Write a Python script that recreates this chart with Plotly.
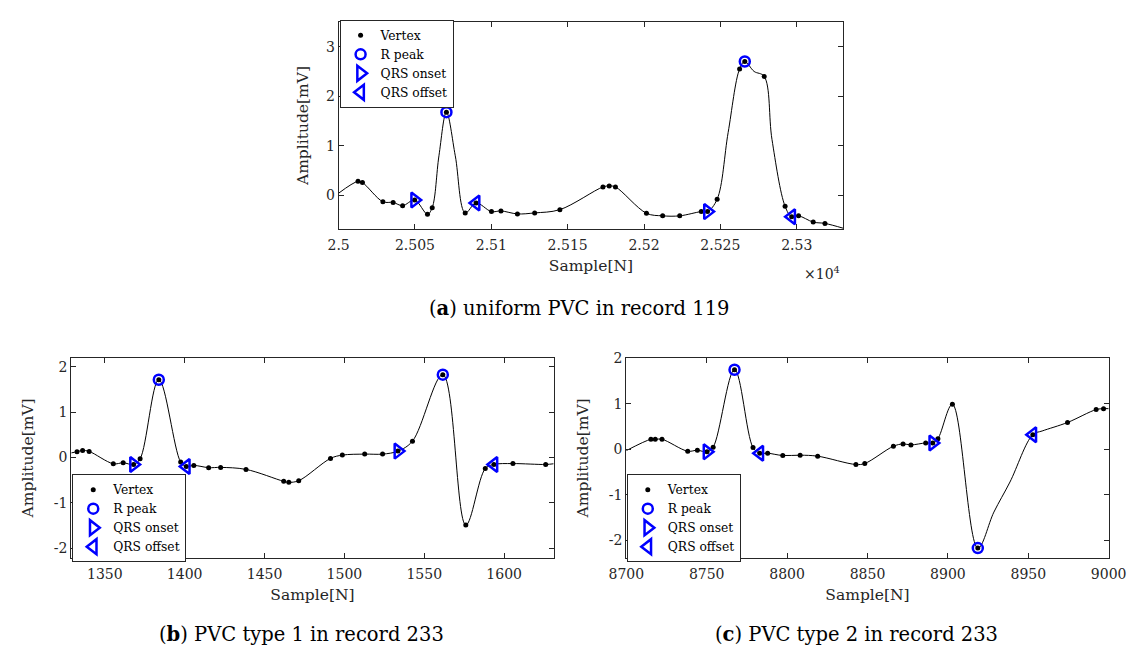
import plotly.graph_objects as go

# ---- panel (a): record 119 ----
a_curve_x = [25000, 25012.7, 25015.6, 25029, 25035.7, 25041.9, 25049.8, 25058.2, 25061.3, 25065.7,
             25070.6, 25076.4, 25082.9, 25090, 25100.1, 25106.3, 25117.1, 25128.4, 25144.9, 25173.1,
             25177.2, 25181.3, 25201.6, 25212.2, 25223.4, 25237.5, 25241.6, 25247.9, 25255.1, 25262.6,
             25266, 25272.1, 25278.7, 25283.8, 25292.4, 25296.7, 25301.2, 25310.8, 25318.5, 25330.5]
a_curve_y = [0.046, 0.285, 0.26, -0.126, -0.14, -0.205, -0.093, -0.377, -0.245, 0.8,
             1.68, 0.8, -0.351, -0.152, -0.325, -0.311, -0.371, -0.351, -0.285, 0.172,
             0.192, 0.172, -0.358, -0.41, -0.41, -0.325, -0.325, -0.075, 1.27, 2.55,
             2.7, 2.5, 2.4, 1.13, -0.219, -0.43, -0.41, -0.536, -0.563, -0.66]
a_vert_x = [25012.7, 25015.6, 25029, 25035.7, 25041.9, 25049.8, 25058.2, 25061.3, 25070.6, 25082.9,
            25090, 25100.1, 25106.3, 25117.1, 25128.4, 25144.9, 25173.1, 25177.2, 25181.3, 25201.6,
            25212.2, 25223.4, 25237.5, 25241.6, 25247.9, 25262.6, 25266, 25278.7, 25292.4, 25296.7,
            25301.2, 25310.8, 25318.5]
a_vert_y = [0.285, 0.26, -0.126, -0.14, -0.205, -0.093, -0.377, -0.245, 1.68, -0.351,
            -0.152, -0.325, -0.311, -0.371, -0.351, -0.285, 0.172, 0.192, 0.172, -0.358,
            -0.41, -0.41, -0.325, -0.325, -0.075, 2.55, 2.7, 2.4, -0.219, -0.43,
            -0.41, -0.536, -0.563]
a_rpeak_x = [25070.6, 25266]
a_rpeak_y = [1.68, 2.7]
a_on_x = [25049.8, 25241.6]
a_on_y = [-0.093, -0.325]
a_off_x = [25090, 25296.7]
a_off_y = [-0.152, -0.43]

# ---- panel (b): record 233, PVC type 1 ----
b_curve_x = [1329, 1332.6, 1336.1, 1340.2, 1355.3, 1361.5, 1368, 1372.1, 1383.8, 1397.5,
             1401, 1405.7, 1415, 1422.5, 1438.4, 1462, 1465.2, 1471.4, 1491.3, 1498.7,
             1512.7, 1523.9, 1533.5, 1542.6, 1561.6, 1576, 1588.2, 1593.6, 1605.5, 1626, 1631]
b_curve_y = [0.1, 0.125, 0.154, 0.132, -0.14, -0.118, -0.154, -0.03, 1.713, -0.103,
             -0.199, -0.176, -0.225, -0.22, -0.264, -0.527, -0.549, -0.513, -0.022, 0.051,
             0.073, 0.073, 0.139, 0.359, 1.824, -1.49, -0.245, -0.155, -0.136, -0.155, -0.14]
b_vert_x = b_curve_x[1:-1]
b_vert_y = b_curve_y[1:-1]
b_rpeak_x = [1383.8, 1561.6]
b_rpeak_y = [1.713, 1.824]
b_on_x = [1368, 1533.5]
b_on_y = [-0.154, 0.139]
b_off_x = [1401, 1593.6]
b_off_y = [-0.199, -0.155]

# ---- panel (c): record 233, PVC type 2 ----
c_curve_x = [8700, 8715.3, 8718, 8722.2, 8738.2, 8744.2, 8750.2, 8754, 8767.3, 8778.8,
             8783, 8787.9, 8797.3, 8808.1, 8819, 8842.8, 8848.3, 8866.1, 8872.1, 8877,
             8886.2, 8890.6, 8893.8, 8902.8, 8918.6, 8928.6, 8938.6, 8952.8, 8958.6, 8974.4,
             8992.2, 8996.8, 9000]
c_curve_y = [-0.03, 0.218, 0.218, 0.218, -0.044, -0.022, -0.058, 0.044, 1.745, 0.036,
             -0.087, -0.087, -0.138, -0.131, -0.153, -0.335, -0.313, 0.065, 0.116, 0.095,
             0.138, 0.138, 0.232, 0.986, -2.17, -1.38, -0.72, 0.32, 0.4, 0.587,
             0.87, 0.89, 0.89]
c_vert_x = [8715.3, 8718, 8722.2, 8738.2, 8744.2, 8750.2, 8754, 8767.3, 8778.8,
            8783, 8787.9, 8797.3, 8808.1, 8819, 8842.8, 8848.3, 8866.1, 8872.1, 8877,
            8886.2, 8890.6, 8893.8, 8902.8, 8918.6, 8952.8, 8974.4, 8992.2, 8996.8]
c_vert_y = [0.218, 0.218, 0.218, -0.044, -0.022, -0.058, 0.044, 1.745, 0.036,
            -0.087, -0.087, -0.138, -0.131, -0.153, -0.335, -0.313, 0.065, 0.116, 0.095,
            0.138, 0.138, 0.232, 0.986, -2.17, 0.32, 0.587, 0.87, 0.89]
c_rpeak_x = [8767.3, 8918.6]
c_rpeak_y = [1.745, -2.17]
c_on_x = [8750.2, 8890.6]
c_on_y = [-0.058, 0.138]
c_off_x = [8783, 8952.8]
c_off_y = [-0.087, 0.32]

a_ticks = [25000, 25050, 25100, 25150, 25200, 25250, 25300]
a_ticktext = ["2.5", "2.505", "2.51", "2.515", "2.52", "2.525", "2.53"]
amp_ticks = [-2, -1, 0, 1, 2]
amp_ticktext = ["-2", "-1", "0", "1", "2"]

W, H = 1148, 648
FONT = "DejaVu Serif"
AXC = "#262626"
BLUE = "#0000ff"

panels = [
    dict(curve=(a_curve_x, a_curve_y), vert=(a_vert_x, a_vert_y), r=(a_rpeak_x, a_rpeak_y),
         on=(a_on_x, a_on_y), off=(a_off_x, a_off_y), xref="x", yref="y", legend="legend"),
    dict(curve=(b_curve_x, b_curve_y), vert=(b_vert_x, b_vert_y), r=(b_rpeak_x, b_rpeak_y),
         on=(b_on_x, b_on_y), off=(b_off_x, b_off_y), xref="x2", yref="y2", legend="legend2"),
    dict(curve=(c_curve_x, c_curve_y), vert=(c_vert_x, c_vert_y), r=(c_rpeak_x, c_rpeak_y),
         on=(c_on_x, c_on_y), off=(c_off_x, c_off_y), xref="x3", yref="y3", legend="legend3"),
]

fig = go.Figure()
for p in panels:
    ax = dict(xaxis=p["xref"], yaxis=p["yref"], legend=p["legend"])
    fig.add_trace(go.Scatter(x=p["curve"][0], y=p["curve"][1], mode="lines", line_shape="spline",
                             line=dict(color="black", width=1), showlegend=False, hoverinfo="skip", **ax))
    fig.add_trace(go.Scatter(x=p["vert"][0], y=p["vert"][1], mode="markers", name="Vertex",
                             marker=dict(color="black", size=5), **ax))
    fig.add_trace(go.Scatter(x=p["r"][0], y=p["r"][1], mode="markers", name="R peak",
                             marker=dict(symbol="circle-open", color=BLUE, size=10, line=dict(width=2.5)), **ax))
    fig.add_trace(go.Scatter(x=p["on"][0], y=p["on"][1], mode="markers", name="QRS onset",
                             marker=dict(symbol="triangle-right-open", color=BLUE, size=13, line=dict(width=2.5)), **ax))
    fig.add_trace(go.Scatter(x=p["off"][0], y=p["off"][1], mode="markers", name="QRS offset",
                             marker=dict(symbol="triangle-left-open", color=BLUE, size=13, line=dict(width=2.5)), **ax))


def axis_style(dom, rng, title, anchor, **kw):
    d = dict(domain=dom, range=rng, anchor=anchor, showgrid=False, zeroline=False, showline=True,
             linecolor=AXC, linewidth=1, mirror="allticks", ticks="inside", ticklen=5, tickcolor=AXC,
             tickfont=dict(family=FONT, size=14, color=AXC),
             title=dict(text=title, font=dict(family=FONT, size=15.5, color=AXC)))
    d.update(kw)
    return d


legend_base = dict(bgcolor="white", bordercolor=AXC, borderwidth=1, tracegroupgap=0,
                   font=dict(family=FONT, size=12.3, color="black"),
                   xanchor="left", yanchor="top")

fig.update_layout(
    width=W, height=H, margin=dict(l=0, r=0, t=0, b=0), autosize=False,
    paper_bgcolor="white", plot_bgcolor="white",
    xaxis=axis_style([331 / W, 852 / W], [25000, 25330.5], "Sample[N]", "y",
                     tickvals=a_ticks, ticktext=a_ticktext, title_standoff=8, ticklabelstandoff=3),
    yaxis=axis_style([1 - 224 / H, 1 - 14 / H], [-0.68, 3.5], "Amplitude[mV]", "x",
                     tickvals=[0, 1, 2, 3], title_standoff=13),
    xaxis2=axis_style([55 / W, 553 / W], [1329, 1631], "Sample[N]", "y2",
                      tickvals=[1350, 1400, 1450, 1500, 1550, 1600], title_standoff=8, ticklabelstandoff=3),
    yaxis2=axis_style([1 - 557 / H, 1 - 354 / H], [-2.22, 2.2], "Amplitude[mV]", "x2",
                      tickvals=amp_ticks, ticktext=amp_ticktext, title_standoff=16),
    xaxis3=axis_style([628 / W, 1126 / W], [8700, 9000], "Sample[N]", "y3",
                      tickvals=[8700, 8750, 8800, 8850, 8900, 8950, 9000], title_standoff=8, ticklabelstandoff=3),
    yaxis3=axis_style([1 - 557 / H, 1 - 354 / H], [-2.39, 2.01], "Amplitude[mV]", "x3",
                      tickvals=amp_ticks, ticktext=amp_ticktext, title_standoff=16),
    legend=dict(legend_base, x=332 / W, y=1 - 12 / H),
    legend2=dict(legend_base, x=56 / W, y=1 - 472 / H),
    legend3=dict(legend_base, x=628.5 / W, y=1 - 472 / H),
    showlegend=True,
)

captions = [
    ("(<b>a</b>) uniform PVC in record 119", 579, 304),
    ("(<b>b</b>) PVC type 1 in record 233", 293, 634),
    ("(<b>c</b>) PVC type 2 in record 233", 866, 634),
]
for txt, cx, cy in captions:
    fig.add_annotation(text=txt, x=cx / W, y=1 - cy / H, xref="paper", yref="paper",
                       xanchor="center", yanchor="middle", showarrow=False,
                       font=dict(family=FONT, size=19.5, color="black"))

fig.add_annotation(text="×10<sup>4</sup>", x=851 / W, y=1 - 268 / H, xref="paper", yref="paper",
                   xanchor="right", yanchor="middle", showarrow=False,
                   font=dict(family=FONT, size=14, color=AXC))

fig.write_html("out.html", config={"displayModeBar": False},
               post_script="document.body.style.margin='0';")
